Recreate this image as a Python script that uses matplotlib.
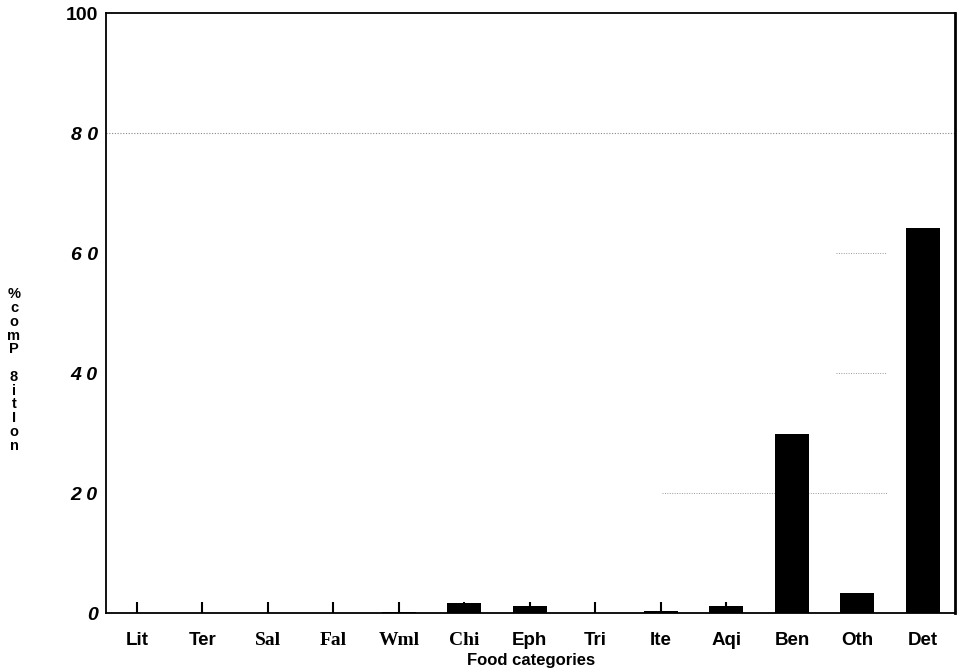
import matplotlib.pyplot as plt
import numpy as np

categories = ["Lit", "Ter", "Sal", "Fal", "Wml", "Chi", "Eph",
              "Tri", "Ite", "Aqi", "Ben", "Oth", "Det"]
composition = [0, 0, 0, 0, 0.2, 1.6, 1.1, 0, 0.4, 1.2, 29.9, 3.3, 64.2]
yticks = [0, 20, 40, 60, 80, 100]
ytick_labels = ["0", "2 0", "4 0", "6 0", "8 0", "100"]
# some labels came out in a serif face on the original plot
serif_labels = {"Sal", "Fal", "Wml", "Chi"}

fig = plt.figure(figsize=(9.59, 6.71), dpi=100)
ax = fig.add_axes([106 / 959, 58 / 671, 849 / 959, 600 / 671])

x = np.arange(len(categories))
ax.bar(x, composition, width=0.52, color="black", zorder=3)

ax.set_xlim(-0.47, 12.49)
ax.set_ylim(0, 100)

# faint dotted rules
ax.axhline(80, color="#888888", lw=0.8, ls=(0, (1, 1.5)), zorder=1)
ax.axhline(20, xmin=0.655, xmax=0.92, color="#999999", lw=0.7,
           ls=(0, (1, 1.5)), zorder=1)
ax.axhline(60, xmin=0.86, xmax=0.92, color="#999999", lw=0.7,
           ls=(0, (1, 1.5)), zorder=1)
ax.axhline(40, xmin=0.86, xmax=0.92, color="#999999", lw=0.7,
           ls=(0, (1, 1.5)), zorder=1)

for side in ["left", "bottom", "top"]:
    ax.spines[side].set_linewidth(1.3)
ax.spines["right"].set_linewidth(2.0)

ax.set_xticks(x)
ax.set_xticklabels(categories)
ax.tick_params(axis="x", direction="in", length=8, width=1.5, pad=14)
for lab in ax.get_xticklabels():
    if lab.get_text() in serif_labels:
        lab.set_fontfamily("Liberation Serif")
        lab.set_fontsize(14)
    else:
        lab.set_fontfamily("Liberation Sans")
        lab.set_fontsize(13.5)
    lab.set_fontweight("bold")

ax.set_yticks(yticks)
ax.set_yticklabels(ytick_labels)
ax.tick_params(axis="y", length=0, pad=6)
for lab in ax.get_yticklabels():
    lab.set_fontfamily("Liberation Sans")
    lab.set_fontsize(14)
    lab.set_fontweight("bold")
    lab.set_fontstyle("normal" if lab.get_text() == "100" else "italic")

fig.text(531 / 959, 1 - 660 / 671, "Food categories", ha="center",
         va="center", fontsize=12, fontweight="bold",
         family="Liberation Sans")

fig.text(14 / 959, 1 - 370 / 671, "%\nc\no\nm\nP\n\n8\ni\nt\nI\no\nn",
         ha="center", va="center", fontsize=10.5, fontweight="bold",
         family="Liberation Sans", linespacing=0.98)

fig.savefig("out.png", dpi=100)
